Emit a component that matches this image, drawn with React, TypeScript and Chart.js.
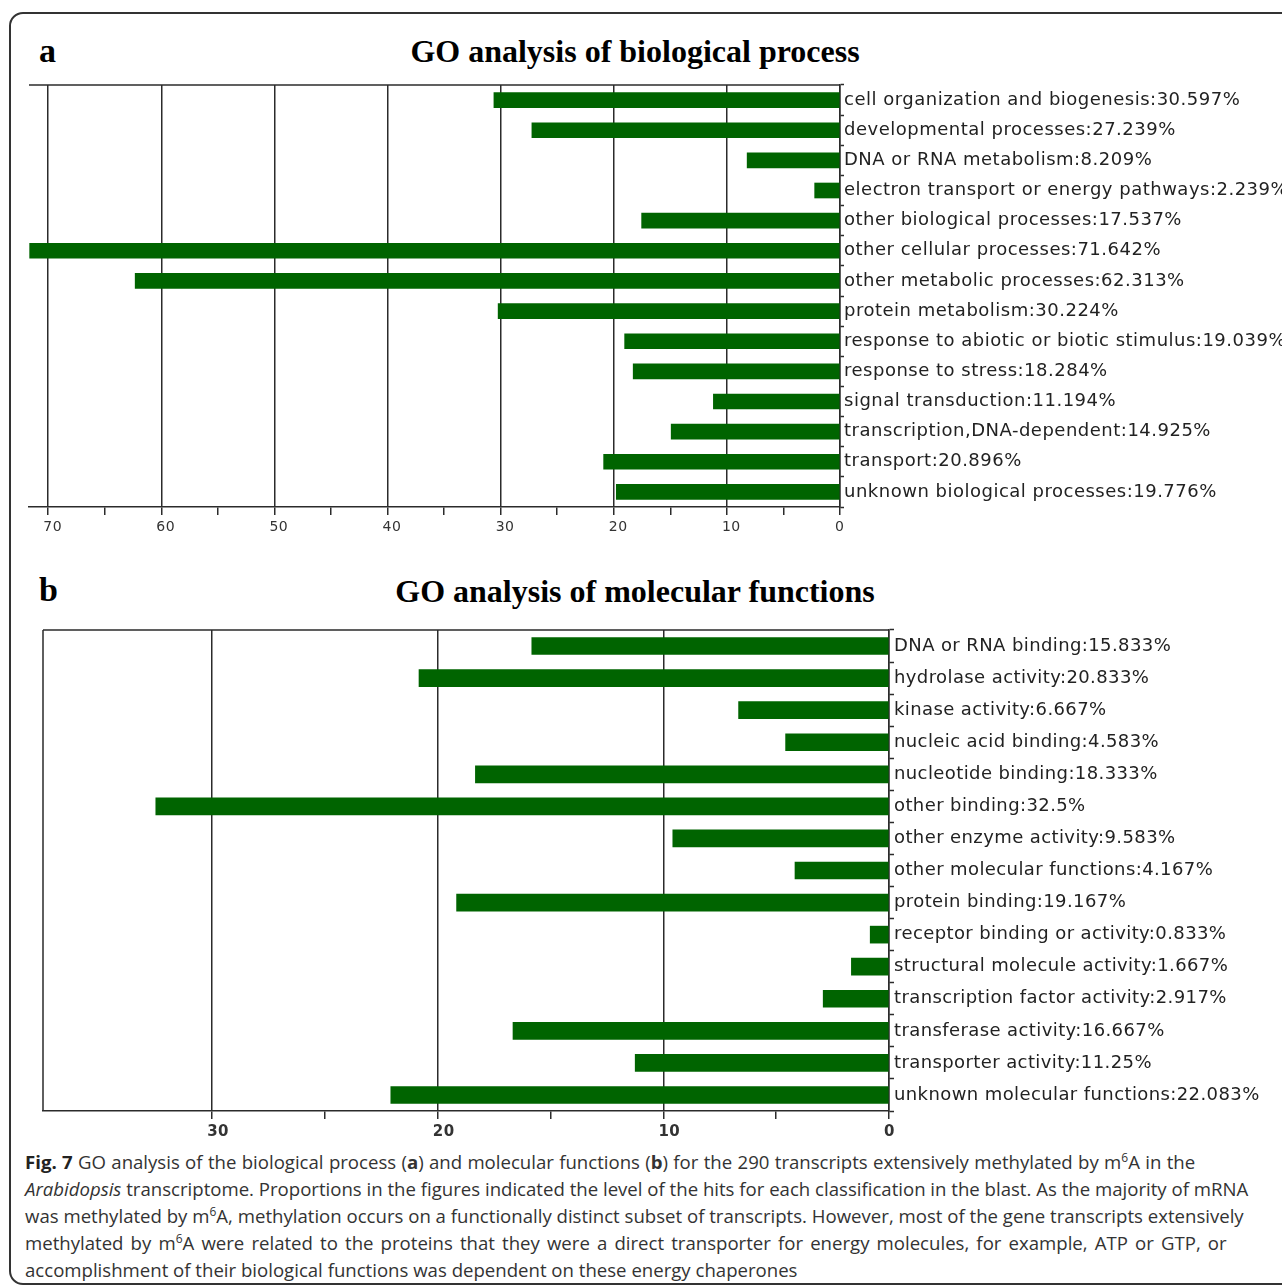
import React, { useEffect, useRef } from "react";
import { Chart, registerables } from "chart.js";

Chart.register(...registerables);

// GO terms: biological process
const processCategories = [
  "cell organization and biogenesis",
  "developmental processes",
  "DNA or RNA metabolism",
  "electron transport or energy pathways",
  "other biological processes",
  "other cellular processes",
  "other metabolic processes",
  "protein metabolism",
  "response to abiotic or biotic stimulus",
  "response to stress",
  "signal transduction",
  "transcription,DNA-dependent",
  "transport",
  "unknown biological processes",
];
const processValues = [
  30.597, 27.239, 8.209, 2.239, 17.537, 71.642, 62.313, 30.224, 19.039, 18.284,
  11.194, 14.925, 20.896, 19.776,
];
const processTickLabels = [0, 10, 20, 30, 40, 50, 60, 70];
const processAxisMax = 71.7;

// GO terms: molecular functions
const functionCategories = [
  "DNA or RNA binding",
  "hydrolase activity",
  "kinase activity",
  "nucleic acid binding",
  "nucleotide binding",
  "other binding",
  "other enzyme activity",
  "other molecular functions",
  "protein binding",
  "receptor binding or activity",
  "structural molecule activity",
  "transcription factor activity",
  "transferase activity",
  "transporter activity",
  "unknown molecular functions",
];
const functionValues = [
  15.833, 20.833, 6.667, 4.583, 18.333, 32.5, 9.583, 4.167, 19.167, 0.833,
  1.667, 2.917, 16.667, 11.25, 22.083,
];
const functionTickLabels = [0, 10, 20, 30];
const functionAxisMax = 37.5;

const BAR_GREEN = "#006400";
const LINE = "#2b2b2b";

// Draws the top edge of the plot (and optionally the left edge)
const frameLines = {
  id: "frameLines",
  beforeDraw(chart: any, _args: any, opts: any) {
    chart.ctx.letterSpacing = (opts && opts.spacing) || "0px";
  },
  afterDraw(chart: any, _args: any, opts: any) {
    const { ctx, chartArea } = chart;
    const { left, right, top, bottom } = chartArea;
    ctx.save();
    ctx.strokeStyle = LINE;
    ctx.lineWidth = 1.5;
    ctx.beginPath();
    ctx.moveTo(left, top);
    ctx.lineTo(right, top);
    if (opts && opts.left) {
      ctx.moveTo(left, top);
      ctx.lineTo(left, bottom);
    }
    ctx.stroke();
    ctx.restore();
  },
};

type PanelProps = {
  top: number;
  height: number;
  padLeft: number;
  labelWidth: number;
  categories: string[];
  values: number[];
  axisMax: number;
  tickLabels: number[];
  barThickness: number;
  labelFont: any;
  tickFont: any;
  labelTickLength: number;
  drawLeft: boolean;
  spacing: string;
};

function BarPanel(p: PanelProps) {
  const ref = useRef<HTMLCanvasElement | null>(null);

  useEffect(() => {
    if (!ref.current) return;
    const labels = p.categories.map((c, i) => `${c}:${p.values[i]}%`);
    const lastTick = p.tickLabels[p.tickLabels.length - 1];
    const chart = new Chart(ref.current, {
      type: "bar",
      data: {
        labels,
        datasets: [
          {
            data: p.values,
            backgroundColor: BAR_GREEN,
            borderWidth: 0,
            barThickness: p.barThickness,
          },
        ],
      },
      options: {
        indexAxis: "y",
        animation: false,
        responsive: false,
        devicePixelRatio: 1,
        events: [],
        layout: { padding: { left: p.padLeft, top: 15, right: 0, bottom: 0 } },
        plugins: {
          legend: { display: false },
          tooltip: { enabled: false },
          title: { display: false },
          frameLines: { left: p.drawLeft, spacing: p.spacing },
        } as any,
        scales: {
          x: {
            type: "linear",
            reverse: true,
            min: 0,
            max: p.axisMax,
            position: "bottom",
            afterFit: (scale: any) => {
              scale.height = 30;
            },
            afterBuildTicks: (scale: any) => {
              scale.ticks = scale.ticks.filter((t: any) => t.value <= lastTick);
            },
            ticks: {
              stepSize: 5,
              includeBounds: false,
              autoSkip: false,
              maxRotation: 0,
              padding: 4,
              align: "start",
              labelOffset: -5,
              color: "#333",
              font: p.tickFont,
              callback: (v: any) =>
                p.tickLabels.includes(Number(v)) ? String(v) : "",
            },
            grid: {
              drawOnChartArea: true,
              drawTicks: true,
              tickLength: 8,
              lineWidth: 1.5,
              color: (ctx: any) =>
                ctx.tick && p.tickLabels.includes(ctx.tick.value) ? LINE : "rgba(0,0,0,0)",
              tickColor: LINE,
              tickWidth: 1.5,
            },
            border: { display: true, color: LINE, width: 1.5 },
          },
          y: {
            type: "category",
            position: "right",
            afterFit: (scale: any) => {
              scale.width = p.labelWidth;
            },
            ticks: {
              autoSkip: false,
              padding: 0,
              color: "#222",
              font: p.labelFont,
              crossAlign: "near",
            },
            grid: {
              offset: true,
              drawOnChartArea: false,
              drawTicks: true,
              tickLength: p.labelTickLength,
              tickColor: LINE,
              tickWidth: 1.5,
            },
            border: { display: true, color: LINE, width: 1.5 },
          },
        },
      } as any,
      plugins: [frameLines],
    });
    return () => chart.destroy();
  }, []);

  return (
    <canvas
      ref={ref}
      width={1282}
      height={p.height}
      style={{ position: "absolute", left: 0, top: p.top, width: 1282, height: p.height }}
    />
  );
}

const titleStyle: React.CSSProperties = {
  position: "absolute",
  fontFamily: "'Liberation Serif', 'Times New Roman', serif",
  fontWeight: "bold",
  fontSize: 32,
  lineHeight: "32px",
  color: "#000",
  whiteSpace: "nowrap",
};

const supStyle: React.CSSProperties = {
  fontSize: 12,
  lineHeight: 0,
  verticalAlign: "7px",
};

export default function App() {
  return (
    <div
      style={{
        position: "absolute",
        left: 0,
        top: 0,
        width: 1282,
        height: 1285,
        overflow: "hidden",
        background: "#fff",
      }}
    >
      <div
        style={{
          position: "absolute",
          left: 9,
          top: 12,
          width: 1300,
          height: 1269,
          border: "2px solid #333",
          borderRadius: 14,
        }}
      />

      <div style={{ ...titleStyle, left: 39, top: 35, fontSize: 34 }}>a</div>
      <div style={{ ...titleStyle, left: 0, width: 1270, top: 35, textAlign: "center" }}>
        GO analysis of biological process
      </div>

      <BarPanel
        top={70}
        height={467}
        padLeft={29}
        labelWidth={442}
        categories={processCategories}
        values={processValues}
        axisMax={processAxisMax}
        tickLabels={processTickLabels}
        barThickness={15}
        labelFont={{ family: "'DejaVu Sans'", size: 18 }}
        tickFont={{ family: "'DejaVu Sans'", size: 14 }}
        labelTickLength={4}
        drawLeft={false}
        spacing="0.5px"
      />

      <div style={{ ...titleStyle, left: 39, top: 574, fontSize: 34 }}>b</div>
      <div style={{ ...titleStyle, left: 0, width: 1270, top: 575, textAlign: "center" }}>
        GO analysis of molecular functions
      </div>

      <BarPanel
        top={615}
        height={526}
        padLeft={43}
        labelWidth={393}
        categories={functionCategories}
        values={functionValues}
        axisMax={functionAxisMax}
        tickLabels={functionTickLabels}
        barThickness={17}
        labelFont={{ family: "'DejaVu Sans'", size: 18 }}
        tickFont={{ family: "'DejaVu Sans'", size: 15, weight: "bold" }}
        labelTickLength={5}
        drawLeft={true}
        spacing="0.4px"
      />

      <div
        style={{
          position: "absolute",
          left: 25,
          top: 1148,
          fontFamily: "'Open Sans', sans-serif",
          fontSize: 18.6,
          lineHeight: "27px",
          color: "#333",
          whiteSpace: "nowrap",
        }}
      >
        <span style={{ wordSpacing: "0.5px" }}>
          <b style={{ color: "#222" }}>Fig. 7</b> GO analysis of the biological process (<b>a</b>)
          and molecular functions (<b>b</b>) for the 290 transcripts extensively methylated by m
          <sup style={supStyle}>6</sup>A in the
        </span>
        <br />
        <span>
          <i>Arabidopsis</i> transcriptome. Proportions in the figures indicated the level of the
          hits for each classification in the blast. As the majority of mRNA
        </span>
        <br />
        <span>
          was methylated by m<sup style={supStyle}>6</sup>A, methylation occurs on a functionally
          distinct subset of transcripts. However, most of the gene transcripts extensively
        </span>
        <br />
        <span style={{ wordSpacing: "2.3px" }}>
          methylated by m<sup style={supStyle}>6</sup>A were related to the proteins that they were a
          direct transporter for energy molecules, for example, ATP or GTP, or
        </span>
        <br />
        <span>accomplishment of their biological functions was dependent on these energy chaperones</span>
      </div>
    </div>
  );
}
